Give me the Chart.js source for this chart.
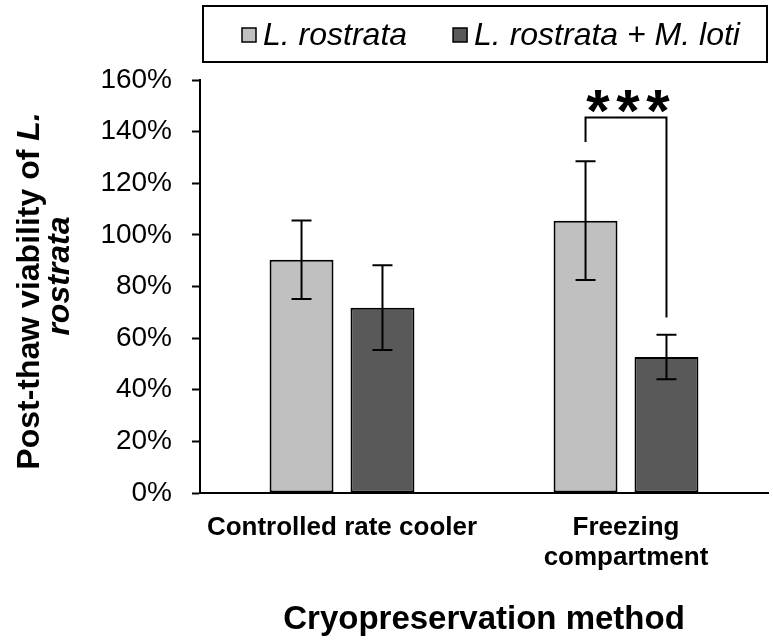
<!DOCTYPE html>
<html>
<head>
<meta charset="utf-8">
<script src="https://cdn.jsdelivr.net/npm/chart.js@4.4.0/dist/chart.umd.min.js"></script>
<style>
  body { margin: 0; background: #fff; }
  #chart { display: block; }
</style>
</head>
<body>
<canvas id="chart" width="773" height="640"></canvas>
<script>
// values (percent)
const categories = [['Controlled rate cooler'], ['Freezing', 'compartment']];
const seriesNames = ['L. rostrata', 'L. rostrata + M. loti'];
const aloneMean = [90.4, 105.5];
const aloneErr = [15.2, 23.0];
const lotiMean = [71.8, 52.7];
const lotiErr = [16.4, 8.6];
const yTickStep = 20;
const yMax = 160;
// significance bracket over the second group, in % units
const bracketTop = 145.5;
const bracketLeftEnd = 136;
const bracketRightEnd = 68;
const sigLabel = '*';

const fillColors = ['#c0c0c0', '#595959'];
const fam = "'Liberation Sans', Arial, sans-serif";
const errors = [aloneErr, lotiErr];
const means = [aloneMean, lotiMean];

// error bars
const errorBars = {
  id: 'errorBars',
  afterDatasetsDraw(chart) {
    const ctx = chart.ctx;
    const y = chart.scales.y;
    ctx.save();
    ctx.strokeStyle = '#000';
    ctx.lineWidth = 2;
    chart.data.datasets.forEach((ds, i) => {
      chart.getDatasetMeta(i).data.forEach((bar, j) => {
        const hi = y.getPixelForValue(means[i][j] + errors[i][j]);
        const lo = y.getPixelForValue(means[i][j] - errors[i][j]);
        ctx.beginPath();
        ctx.moveTo(bar.x, hi); ctx.lineTo(bar.x, lo);
        ctx.moveTo(bar.x - 10, hi); ctx.lineTo(bar.x + 10, hi);
        ctx.moveTo(bar.x - 10, lo); ctx.lineTo(bar.x + 10, lo);
        ctx.stroke();
      });
    });
    ctx.restore();
  }
};

// significance bracket + stars
const sigBracket = {
  id: 'sigBracket',
  afterDatasetsDraw(chart) {
    const ctx = chart.ctx;
    const y = chart.scales.y;
    const x1 = chart.getDatasetMeta(0).data[1].x;
    const x2 = chart.getDatasetMeta(1).data[1].x;
    const yt = y.getPixelForValue(bracketTop);
    ctx.save();
    ctx.strokeStyle = '#000';
    ctx.lineWidth = 2;
    ctx.beginPath();
    ctx.moveTo(x1, y.getPixelForValue(bracketLeftEnd));
    ctx.lineTo(x1, yt);
    ctx.lineTo(x2, yt);
    ctx.lineTo(x2, y.getPixelForValue(bracketRightEnd));
    ctx.stroke();
    ctx.font = 'bold 60px ' + fam;
    ctx.fillStyle = '#000';
    ctx.textAlign = 'center';
    ctx.textBaseline = 'alphabetic';
    const m = ctx.measureText(sigLabel);
    const base = yt - 4 - m.actualBoundingBoxDescent;
    const cx = (x1 + x2) / 2 + 2;
    for (let k = -1; k <= 1; k++) ctx.fillText(sigLabel, cx + k * 30, base);
    ctx.restore();
  }
};

// boxed legend above the plot
const boxLegend = {
  id: 'boxLegend',
  afterDraw(chart) {
    const ctx = chart.ctx;
    const a = chart.chartArea;
    ctx.save();
    ctx.strokeStyle = '#000';
    ctx.lineWidth = 2;
    ctx.strokeRect(a.left + 3, 6, a.right - a.left - 4, 56);
    ctx.font = 'italic 32px ' + fam;
    ctx.textBaseline = 'middle';
    let x = a.left + 42;
    const cy = 35;
    chart.data.datasets.forEach((ds, i) => {
      ctx.fillStyle = ds.backgroundColor;
      ctx.fillRect(x, cy - 7, 14, 14);
      ctx.lineWidth = 1.5;
      ctx.strokeRect(x, cy - 7, 14, 14);
      ctx.fillStyle = '#000';
      ctx.fillText(ds.label, x + 21, cy + 1);
      x += 21 + ctx.measureText(ds.label).width + 46;
    });
    ctx.restore();
  }
};

// two-line y title with italic species name
const yTitle = {
  id: 'yTitle',
  afterDraw(chart) {
    const ctx = chart.ctx;
    const parts1 = [['Post-thaw viability of ', 'bold 32px '], ['L.', 'italic bold 32px ']];
    const parts2 = [['rostrata', 'italic bold 32px ']];
    const drawLine = (parts, cx, cy) => {
      let w = 0;
      parts.forEach(p => { ctx.font = p[1] + fam; w += ctx.measureText(p[0]).width; });
      ctx.save();
      ctx.translate(cx, cy);
      ctx.rotate(-Math.PI / 2);
      ctx.textBaseline = 'middle';
      ctx.fillStyle = '#000';
      let x = -w / 2;
      parts.forEach(p => { ctx.font = p[1] + fam; ctx.fillText(p[0], x, 0); x += ctx.measureText(p[0]).width; });
      ctx.restore();
    };
    drawLine(parts1, 30, 291);
    drawLine(parts2, 60, 276);
  }
};

new Chart(document.getElementById('chart'), {
  type: 'bar',
  data: {
    labels: categories,
    datasets: [
      { label: seriesNames[0], data: aloneMean, backgroundColor: fillColors[0] },
      { label: seriesNames[1], data: lotiMean, backgroundColor: fillColors[1] }
    ]
  },
  options: {
    responsive: false,
    animation: false,
    devicePixelRatio: 1,
    layout: { padding: { top: 80, right: 5, left: 0, bottom: 0 } },
    datasets: {
      bar: {
        borderColor: '#000',
        borderWidth: 2,
        borderSkipped: false,
        categoryPercentage: 0.57,
        barPercentage: 0.79
      }
    },
    plugins: {
      legend: { display: false },
      tooltip: { enabled: false }
    },
    scales: {
      x: {
        grid: { display: false, drawTicks: false },
        border: { display: true, color: '#000', width: 2 },
        ticks: {
          color: '#000',
          font: { family: fam, size: 26, weight: 'bold', lineHeight: 1.15 },
          padding: 20,
          maxRotation: 0
        },
        title: {
          display: true,
          text: 'Cryopreservation method',
          color: '#000',
          font: { family: fam, size: 33, weight: 'bold' },
          padding: { top: 0, bottom: 0 }
        },
        afterFit(s) { s.height = 147; }
      },
      y: {
        min: 0,
        max: yMax,
        ticks: {
          stepSize: yTickStep,
          color: '#000',
          font: { family: fam, size: 28 },
          padding: 20,
          callback: v => v + '%'
        },
        grid: { drawOnChartArea: false, drawTicks: true, tickLength: 8, tickColor: '#000', tickWidth: 2 },
        border: { display: true, color: '#000', width: 2 },
        afterFit(s) { s.width = 200; }
      }
    }
  },
  plugins: [errorBars, sigBracket, boxLegend, yTitle]
});
</script>
</body>
</html>
